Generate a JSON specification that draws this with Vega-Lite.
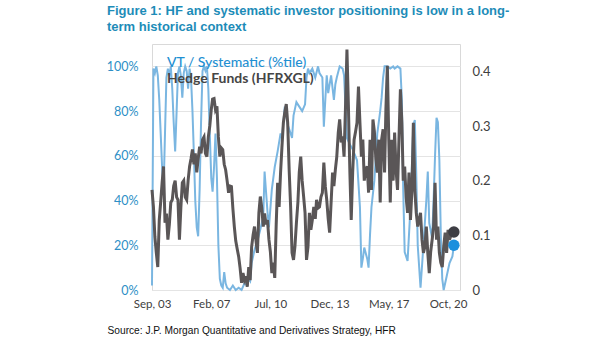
{
  "$schema": "https://vega.github.io/schema/vega-lite/v6.json",
  "width": 308,
  "height": 246,
  "autosize": {"type": "none"},
  "padding": {"left": 152, "top": 44, "right": 145, "bottom": 51},
  "background": "white",
  "config": {
    "view": {"stroke": "#d9d9d9", "strokeWidth": 1},
    "font": "Lato"
  },
  "title": {
    "text": ["Figure 1: HF and systematic investor positioning is low in a long-", "term historical context"],
    "anchor": "start",
    "frame": "group",
    "dx": -45,
    "offset": 9,
    "font": "Liberation Sans Narrow, Liberation Sans, sans-serif",
    "fontSize": 13,
    "fontWeight": "bold",
    "color": "#1d8cb8",
    "lineHeight": 16
  },
  "datasets": {
    "vt": [
      {"d":"2003-09-01","v":0.02},{"d":"2003-10-01","v":0.99},{"d":"2003-11-01","v":0.97},{"d":"2003-12-01","v":1.0},
      {"d":"2004-01-01","v":0.96},{"d":"2004-02-01","v":0.85},{"d":"2004-04-01","v":0.55},{"d":"2004-05-01","v":0.44},
      {"d":"2004-06-01","v":0.70},{"d":"2004-07-01","v":0.95},{"d":"2004-08-01","v":0.99},{"d":"2004-09-01","v":0.96},
      {"d":"2004-10-01","v":1.0},{"d":"2004-11-01","v":0.90},{"d":"2004-12-01","v":0.75},{"d":"2005-01-01","v":0.62},
      {"d":"2005-02-01","v":0.80},{"d":"2005-03-01","v":0.97},{"d":"2005-04-01","v":1.0},{"d":"2005-05-01","v":0.96},
      {"d":"2005-06-01","v":0.86},{"d":"2005-07-01","v":0.97},{"d":"2005-08-01","v":1.0},{"d":"2005-09-01","v":0.98},
      {"d":"2005-10-01","v":0.90},{"d":"2005-11-01","v":0.99},{"d":"2005-12-01","v":0.95},{"d":"2006-01-01","v":0.80},
      {"d":"2006-02-01","v":0.60},{"d":"2006-03-01","v":0.40},{"d":"2006-04-01","v":0.28},{"d":"2006-05-01","v":0.24},
      {"d":"2006-06-01","v":0.45},{"d":"2006-07-01","v":0.75},{"d":"2006-08-01","v":0.98},{"d":"2006-09-01","v":1.0},
      {"d":"2006-10-01","v":0.98},{"d":"2006-11-01","v":1.0},{"d":"2006-12-01","v":0.90},{"d":"2007-01-01","v":0.70},
      {"d":"2007-02-01","v":0.50},{"d":"2007-03-01","v":0.44},{"d":"2007-04-01","v":0.55},{"d":"2007-05-01","v":0.70},
      {"d":"2007-06-01","v":0.50},{"d":"2007-07-01","v":0.20},{"d":"2007-08-01","v":0.05},{"d":"2007-09-01","v":0.02},
      {"d":"2007-10-01","v":0.01},{"d":"2007-11-01","v":0.08},{"d":"2007-12-01","v":0.03},{"d":"2008-01-01","v":0.01},
      {"d":"2008-03-01","v":0.0},{"d":"2008-05-01","v":0.02},{"d":"2008-07-01","v":0.0},{"d":"2008-09-01","v":0.01},
      {"d":"2008-11-01","v":0.0},{"d":"2009-01-01","v":0.03},{"d":"2009-03-01","v":0.02},{"d":"2009-04-01","v":0.05},
      {"d":"2009-05-01","v":0.04},{"d":"2009-06-01","v":0.12},{"d":"2009-08-01","v":0.18},{"d":"2009-10-01","v":0.22},
      {"d":"2009-12-01","v":0.27},{"d":"2010-02-01","v":0.33},{"d":"2010-03-01","v":0.53},{"d":"2010-05-01","v":0.35},
      {"d":"2010-06-01","v":0.28},{"d":"2010-08-01","v":0.45},{"d":"2010-10-01","v":0.55},{"d":"2010-12-01","v":0.62},
      {"d":"2011-02-01","v":0.70},{"d":"2011-03-01","v":0.68},{"d":"2011-04-01","v":0.75},{"d":"2011-05-01","v":0.82},
      {"d":"2011-07-01","v":0.74},{"d":"2011-09-01","v":0.70},{"d":"2011-10-01","v":0.68},{"d":"2011-11-01","v":0.78},
      {"d":"2012-01-01","v":0.84},{"d":"2012-03-01","v":0.82},{"d":"2012-05-01","v":0.80},{"d":"2012-07-01","v":0.83},
      {"d":"2012-08-01","v":0.95},{"d":"2012-09-01","v":0.99},{"d":"2012-10-01","v":0.97},{"d":"2012-12-01","v":0.99},
      {"d":"2013-02-01","v":0.95},{"d":"2013-04-01","v":1.0},{"d":"2013-05-01","v":0.97},{"d":"2013-07-01","v":0.95},
      {"d":"2013-08-01","v":0.73},{"d":"2013-09-01","v":0.85},{"d":"2013-10-01","v":0.96},{"d":"2013-11-01","v":0.88},
      {"d":"2014-01-01","v":0.96},{"d":"2014-03-01","v":0.85},{"d":"2014-04-01","v":0.92},{"d":"2014-05-01","v":0.95},
      {"d":"2014-07-01","v":1.0},{"d":"2014-09-01","v":0.99},{"d":"2014-10-01","v":0.96},{"d":"2014-12-01","v":0.68},
      {"d":"2015-02-01","v":0.65},{"d":"2015-04-01","v":0.63},{"d":"2015-07-01","v":0.58},{"d":"2015-09-01","v":0.37},
      {"d":"2015-10-01","v":0.10},{"d":"2015-11-01","v":0.14},{"d":"2015-12-01","v":0.19},{"d":"2016-02-01","v":0.14},
      {"d":"2016-03-01","v":0.10},{"d":"2016-04-01","v":0.25},{"d":"2016-05-01","v":0.37},{"d":"2016-07-01","v":0.49},
      {"d":"2016-09-01","v":0.70},{"d":"2016-11-01","v":0.80},{"d":"2016-12-01","v":0.86},{"d":"2017-01-01","v":0.95},
      {"d":"2017-02-01","v":1.0},{"d":"2017-04-01","v":1.0},{"d":"2017-06-01","v":0.99},{"d":"2017-08-01","v":1.0},
      {"d":"2017-09-01","v":0.99},{"d":"2017-11-01","v":1.0},{"d":"2018-01-01","v":0.99},{"d":"2018-02-01","v":0.85},
      {"d":"2018-03-01","v":0.45},{"d":"2018-04-01","v":0.17},{"d":"2018-06-01","v":0.13},{"d":"2018-08-01","v":0.37},
      {"d":"2018-10-01","v":0.74},{"d":"2018-11-01","v":0.76},{"d":"2018-12-01","v":0.52},{"d":"2019-01-01","v":0.20},
      {"d":"2019-03-01","v":0.01},{"d":"2019-05-01","v":0.20},{"d":"2019-07-01","v":0.40},{"d":"2019-08-01","v":0.53},
      {"d":"2019-09-01","v":0.30},{"d":"2019-11-01","v":0.23},{"d":"2019-12-01","v":0.40},{"d":"2020-01-01","v":0.60},
      {"d":"2020-02-01","v":0.77},{"d":"2020-03-01","v":0.75},{"d":"2020-04-01","v":0.58},{"d":"2020-05-01","v":0.25},
      {"d":"2020-06-01","v":0.05},{"d":"2020-07-01","v":0.0},{"d":"2020-09-01","v":0.06},{"d":"2020-11-01","v":0.12},
      {"d":"2021-01-01","v":0.15},{"d":"2021-02-01","v":0.20}
    ],
    "hf": [
      {"d":"2003-09-01","v":0.183},{"d":"2003-10-01","v":0.152},{"d":"2003-11-01","v":0.097},{"d":"2003-12-01","v":0.068},
      {"d":"2004-01-01","v":0.042},{"d":"2004-02-01","v":0.128},{"d":"2004-03-01","v":0.16},{"d":"2004-04-01","v":0.196},
      {"d":"2004-05-01","v":0.226},{"d":"2004-06-01","v":0.123},{"d":"2004-07-01","v":0.14},{"d":"2004-08-01","v":0.092},
      {"d":"2004-09-01","v":0.12},{"d":"2004-10-01","v":0.16},{"d":"2004-11-01","v":0.165},{"d":"2004-12-01","v":0.19},
      {"d":"2005-01-01","v":0.20},{"d":"2005-02-01","v":0.17},{"d":"2005-03-01","v":0.165},{"d":"2005-04-01","v":0.092},
      {"d":"2005-05-01","v":0.15},{"d":"2005-06-01","v":0.196},{"d":"2005-07-01","v":0.20},{"d":"2005-08-01","v":0.17},
      {"d":"2005-09-01","v":0.165},{"d":"2005-10-01","v":0.20},{"d":"2005-11-01","v":0.226},{"d":"2005-12-01","v":0.24},
      {"d":"2006-01-01","v":0.257},{"d":"2006-02-01","v":0.23},{"d":"2006-03-01","v":0.25},{"d":"2006-04-01","v":0.215},
      {"d":"2006-05-01","v":0.24},{"d":"2006-06-01","v":0.262},{"d":"2006-07-01","v":0.25},{"d":"2006-08-01","v":0.275},
      {"d":"2006-09-01","v":0.28},{"d":"2006-10-01","v":0.25},{"d":"2006-11-01","v":0.244},{"d":"2006-12-01","v":0.28},
      {"d":"2007-01-01","v":0.30},{"d":"2007-02-01","v":0.33},{"d":"2007-03-01","v":0.349},{"d":"2007-04-01","v":0.35},
      {"d":"2007-05-01","v":0.33},{"d":"2007-06-01","v":0.336},{"d":"2007-07-01","v":0.28},{"d":"2007-08-01","v":0.244},
      {"d":"2007-09-01","v":0.26},{"d":"2007-10-01","v":0.257},{"d":"2007-11-01","v":0.23},{"d":"2007-12-01","v":0.22},
      {"d":"2008-01-01","v":0.20},{"d":"2008-02-01","v":0.178},{"d":"2008-03-01","v":0.19},{"d":"2008-04-01","v":0.189},
      {"d":"2008-05-01","v":0.15},{"d":"2008-06-01","v":0.116},{"d":"2008-07-01","v":0.09},{"d":"2008-08-01","v":0.075},
      {"d":"2008-09-01","v":0.061},{"d":"2008-10-01","v":0.04},{"d":"2008-11-01","v":0.013},{"d":"2008-12-01","v":0.031},
      {"d":"2009-01-01","v":0.018},{"d":"2009-02-01","v":0.025},{"d":"2009-03-01","v":0.006},{"d":"2009-04-01","v":0.042},
      {"d":"2009-05-01","v":0.018},{"d":"2009-06-01","v":0.079},{"d":"2009-07-01","v":0.10},{"d":"2009-08-01","v":0.116},
      {"d":"2009-09-01","v":0.09},{"d":"2009-10-01","v":0.068},{"d":"2009-11-01","v":0.141},{"d":"2009-12-01","v":0.171},
      {"d":"2010-01-01","v":0.15},{"d":"2010-02-01","v":0.116},{"d":"2010-03-01","v":0.14},{"d":"2010-04-01","v":0.12},
      {"d":"2010-05-01","v":0.128},{"d":"2010-06-01","v":0.092},{"d":"2010-07-01","v":0.07},{"d":"2010-08-01","v":0.031},
      {"d":"2010-09-01","v":0.05},{"d":"2010-10-01","v":0.022},{"d":"2010-11-01","v":0.12},{"d":"2010-12-01","v":0.196},
      {"d":"2011-01-01","v":0.152},{"d":"2011-02-01","v":0.215},{"d":"2011-03-01","v":0.26},{"d":"2011-04-01","v":0.306},
      {"d":"2011-05-01","v":0.325},{"d":"2011-06-01","v":0.34},{"d":"2011-07-01","v":0.306},{"d":"2011-08-01","v":0.22},
      {"d":"2011-09-01","v":0.152},{"d":"2011-10-01","v":0.068},{"d":"2011-11-01","v":0.055},{"d":"2011-12-01","v":0.08},
      {"d":"2012-01-01","v":0.123},{"d":"2012-02-01","v":0.16},{"d":"2012-03-01","v":0.215},{"d":"2012-04-01","v":0.244},
      {"d":"2012-05-01","v":0.20},{"d":"2012-06-01","v":0.171},{"d":"2012-07-01","v":0.141},{"d":"2012-08-01","v":0.055},
      {"d":"2012-09-01","v":0.079},{"d":"2012-10-01","v":0.141},{"d":"2012-11-01","v":0.11},{"d":"2012-12-01","v":0.128},
      {"d":"2013-01-01","v":0.152},{"d":"2013-02-01","v":0.13},{"d":"2013-03-01","v":0.165},{"d":"2013-04-01","v":0.15},
      {"d":"2013-05-01","v":0.152},{"d":"2013-06-01","v":0.17},{"d":"2013-07-01","v":0.178},{"d":"2013-08-01","v":0.233},
      {"d":"2013-09-01","v":0.19},{"d":"2013-10-01","v":0.165},{"d":"2013-11-01","v":0.13},{"d":"2013-12-01","v":0.105},
      {"d":"2014-01-01","v":0.16},{"d":"2014-02-01","v":0.215},{"d":"2014-03-01","v":0.19},{"d":"2014-04-01","v":0.22},
      {"d":"2014-05-01","v":0.244},{"d":"2014-06-01","v":0.288},{"d":"2014-07-01","v":0.312},{"d":"2014-08-01","v":0.27},
      {"d":"2014-09-01","v":0.281},{"d":"2014-10-01","v":0.244},{"d":"2014-11-01","v":0.336},{"d":"2014-12-01","v":0.44},
      {"d":"2015-01-01","v":0.336},{"d":"2015-02-01","v":0.215},{"d":"2015-03-01","v":0.128},{"d":"2015-04-01","v":0.215},
      {"d":"2015-05-01","v":0.275},{"d":"2015-06-01","v":0.29},{"d":"2015-07-01","v":0.306},{"d":"2015-08-01","v":0.372},
      {"d":"2015-09-01","v":0.306},{"d":"2015-10-01","v":0.244},{"d":"2015-11-01","v":0.275},{"d":"2015-12-01","v":0.20},
      {"d":"2016-01-01","v":0.22},{"d":"2016-02-01","v":0.226},{"d":"2016-03-01","v":0.178},{"d":"2016-04-01","v":0.275},
      {"d":"2016-05-01","v":0.183},{"d":"2016-06-01","v":0.312},{"d":"2016-07-01","v":0.29},{"d":"2016-08-01","v":0.24},
      {"d":"2016-09-01","v":0.215},{"d":"2016-10-01","v":0.275},{"d":"2016-11-01","v":0.16},{"d":"2016-12-01","v":0.275},
      {"d":"2017-01-01","v":0.294},{"d":"2017-02-01","v":0.215},{"d":"2017-03-01","v":0.33},{"d":"2017-04-01","v":0.41},
      {"d":"2017-05-01","v":0.275},{"d":"2017-06-01","v":0.16},{"d":"2017-07-01","v":0.275},{"d":"2017-08-01","v":0.20},
      {"d":"2017-09-01","v":0.288},{"d":"2017-10-01","v":0.22},{"d":"2017-11-01","v":0.183},{"d":"2017-12-01","v":0.275},
      {"d":"2018-01-01","v":0.367},{"d":"2018-02-01","v":0.306},{"d":"2018-03-01","v":0.20},{"d":"2018-04-01","v":0.226},
      {"d":"2018-05-01","v":0.17},{"d":"2018-06-01","v":0.141},{"d":"2018-07-01","v":0.215},{"d":"2018-08-01","v":0.128},
      {"d":"2018-09-01","v":0.183},{"d":"2018-10-01","v":0.306},{"d":"2018-11-01","v":0.183},{"d":"2018-12-01","v":0.141},
      {"d":"2019-01-01","v":0.116},{"d":"2019-02-01","v":0.13},{"d":"2019-03-01","v":0.141},{"d":"2019-04-01","v":0.092},
      {"d":"2019-05-01","v":0.068},{"d":"2019-06-01","v":0.079},{"d":"2019-07-01","v":0.116},{"d":"2019-08-01","v":0.068},
      {"d":"2019-09-01","v":0.031},{"d":"2019-10-01","v":0.07},{"d":"2019-11-01","v":0.092},{"d":"2019-12-01","v":0.116},
      {"d":"2020-01-01","v":0.196},{"d":"2020-02-01","v":0.092},{"d":"2020-03-01","v":0.116},{"d":"2020-04-01","v":0.068},
      {"d":"2020-05-01","v":0.05},{"d":"2020-06-01","v":0.042},{"d":"2020-07-01","v":0.079},{"d":"2020-08-01","v":0.105},
      {"d":"2020-09-01","v":0.068},{"d":"2020-10-01","v":0.11},{"d":"2020-11-01","v":0.092},{"d":"2020-12-01","v":0.10},
      {"d":"2021-01-01","v":0.105},{"d":"2021-02-01","v":0.106}
    ]
  },
  "encoding": {
    "x": {
      "field": "d",
      "type": "temporal",
      "scale": {"domain": [{"year": 2003, "month": 9, "date": 1}, {"year": 2021, "month": 6, "date": 10}]},
      "axis": {
        "values": [
          {"year": 2003, "month": 9, "date": 1},
          {"year": 2007, "month": 2, "date": 1},
          {"year": 2010, "month": 7, "date": 1},
          {"year": 2013, "month": 12, "date": 1},
          {"year": 2017, "month": 5, "date": 1},
          {"year": 2020, "month": 10, "date": 1}
        ],
        "format": "%b, %y",
        "grid": false,
        "domain": false,
        "ticks": false,
        "tickSize": 0,
        "labelPadding": 8,
        "labelFont": "Lato",
        "labelFontSize": 11.5,
        "labelColor": "#404040",
        "labelOverlap": false,
        "labelFlush": false,
        "title": "Source: J.P. Morgan Quantitative and Derivatives Strategy, HFR",
        "titleFont": "Liberation Sans Narrow, Liberation Sans, sans-serif",
        "titleFontSize": 10.2,
        "titleFontWeight": "normal",
        "titleColor": "#111111",
        "titleAnchor": "start",
        "titleAlign": "left",
        "titleBaseline": "middle",
        "titleX": -45,
        "titleY": 40
      }
    }
  },
  "layer": [
    {
      "data": {"name": "vt", "format": {"parse": {"d": "date"}}},
      "mark": {"type": "line", "strokeWidth": 2, "interpolate": "linear"},
      "encoding": {
        "y": {
          "field": "v",
          "type": "quantitative",
          "scale": {"domain": [0, 1.1], "nice": false, "zero": true},
          "axis": {
            "orient": "left",
            "values": [0, 0.2, 0.4, 0.6, 0.8, 1.0],
            "format": ".0%",
            "title": null,
            "grid": true,
            "gridColor": "#e4e4e4",
            "gridWidth": 1,
            "domain": false,
            "ticks": false,
            "tickSize": 0,
            "labelPadding": 14,
            "labelFont": "Lato",
            "labelFontSize": 12.5,
            "labelColor": "#2e8fc6"
          }
        },
        "color": {
          "datum": "VT / Systematic (%tile)",
          "type": "nominal",
          "scale": {
            "domain": ["VT / Systematic (%tile)", "Hedge Funds (HFRXGL)"],
            "range": ["#7ab6e1", "#5a5657"]
          },
          "legend": {
            "orient": "none",
            "legendX": 1,
            "legendY": 12,
            "title": null,
            "padding": 0,
            "symbolSize": 0,
            "symbolOpacity": 0,
            "symbolStrokeWidth": 0,
            "labelOffset": 0,
            "rowPadding": 2,
            "labelFont": "Lato",
            "labelFontSize": 14,
            "labelLimit": 300,
            "encode": {
              "labels": {
                "update": {
                  "fill": {"signal": "datum.value === 'VT / Systematic (%tile)' ? '#1f90d2' : '#454545'"},
                  "fontWeight": {"signal": "datum.value === 'VT / Systematic (%tile)' ? '500' : 'bold'"}
                }
              }
            }
          }
        }
      }
    },
    {
      "data": {"name": "hf", "format": {"parse": {"d": "date"}}},
      "mark": {"type": "line", "strokeWidth": 3, "interpolate": "linear"},
      "encoding": {
        "y": {
          "field": "v",
          "type": "quantitative",
          "scale": {"domain": [0, 0.45], "nice": false, "zero": true},
          "axis": {
            "orient": "right",
            "values": [0, 0.1, 0.2, 0.3, 0.4],
            "format": "~g",
            "title": null,
            "grid": false,
            "domain": false,
            "ticks": false,
            "tickSize": 0,
            "labelPadding": 12,
            "labelFont": "Lato",
            "labelFontSize": 13,
            "labelColor": "#404040"
          }
        },
        "color": {"datum": "Hedge Funds (HFRXGL)", "type": "nominal"}
      }
    },
    {
      "data": {"name": "hf", "format": {"parse": {"d": "date"}}},
      "transform": [
        {"joinaggregate": [{"op": "max", "field": "d", "as": "dmax"}]},
        {"filter": "time(datum.d) === time(datum.dmax)"}
      ],
      "mark": {"type": "circle", "size": 130, "opacity": 1, "color": "#3e3e44"},
      "encoding": {
        "y": {"field": "v", "type": "quantitative", "scale": {"domain": [0, 0.45], "nice": false}, "axis": null}
      }
    },
    {
      "data": {"name": "vt", "format": {"parse": {"d": "date"}}},
      "transform": [
        {"joinaggregate": [{"op": "max", "field": "d", "as": "dmax"}]},
        {"filter": "time(datum.d) === time(datum.dmax)"}
      ],
      "mark": {"type": "circle", "size": 130, "opacity": 1, "color": "#1b8fdd"},
      "encoding": {
        "y": {"field": "v", "type": "quantitative", "scale": {"domain": [0, 1.1], "nice": false}, "axis": null}
      }
    }
  ],
  "resolve": {"scale": {"y": "independent"}, "axis": {"y": "independent"}}
}
